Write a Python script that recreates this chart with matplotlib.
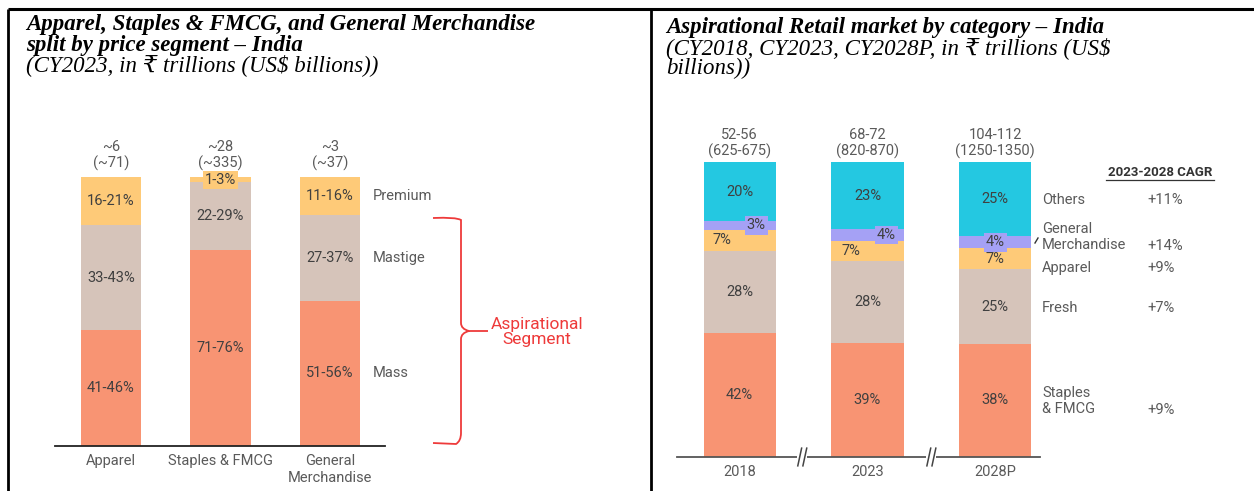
import matplotlib
matplotlib.use("Agg")
import matplotlib.pyplot as plt
import numpy as np
from matplotlib.path import Path
from matplotlib.patches import PathPatch

# ---------------- data ----------------
left_categories = ['Apparel', 'Staples & FMCG', 'General\nMerchandise']
left_totals = ['~6\n(~71)', '~28\n(~335)', '~3\n(~37)']
left_mass = [43, 73, 54]
left_mastige = [39, 25, 32]
left_premium = [18, 2, 14]
left_mass_labels = ['41-46%', '71-76%', '51-56%']
left_mastige_labels = ['33-43%', '22-29%', '27-37%']
left_premium_labels = ['16-21%', '1-3%', '11-16%']
left_segment_names = ['Mass', 'Mastige', 'Premium']

years = ['2018', '2023', '2028P']
year_totals = ['52-56\n(625-675)', '68-72\n(820-870)', '104-112\n(1250-1350)']
right_categories = ['Staples\n& FMCG', 'Fresh', 'Apparel', 'General\nMerchandise', 'Others']
staples = [42, 39, 38]
fresh = [28, 28, 25]
apparel = [7, 7, 7]
gen_merch = [3, 4, 4]
others = [20, 23, 25]
cagr = ['+9%', '+7%', '+9%', '+14%', '+11%']

# ---------------- style ----------------
C_MASS = '#f89473'
C_MAST = '#d6c4ba'
C_PREM = '#feca78'
C_CYAN = '#24c8e1'
C_PURP = '#a5a1f5'
TXT = '#404040'
GRAY = '#5a5a5a'
SANS = ['Roboto', 'DejaVu Sans']
SERIF = ['Liberation Serif', 'DejaVu Serif', 'DejaVu Sans']
FS = 10.5
TFS = 16.5

W, H = 1254, 491
fig = plt.figure(figsize=(W / 100, H / 100), dpi=100)
fig.patch.set_facecolor('white')


def pos(x0, x1, ytop, ybot):
    return [x0 / W, (H - ybot) / H, (x1 - x0) / W, (ybot - ytop) / H]


ov = fig.add_axes([0, 0, 1, 1], zorder=0)
ov.set_xlim(0, W)
ov.set_ylim(H, 0)
ov.axis('off')

# frame lines
ov.plot([8, W], [9, 9], color='black', lw=2.2, solid_capstyle='butt')
ov.plot([8, 8], [9, H], color='black', lw=2.0, solid_capstyle='butt')
ov.plot([651, 651], [9, H], color='black', lw=2.0, solid_capstyle='butt')

# titles
ov.text(26, 24, 'Apparel, Staples & FMCG, and General Merchandise', family=SERIF,
        fontsize=TFS, fontweight='bold', style='italic', va='center', ha='left')
ov.text(26, 45, 'split by price segment – India', family=SERIF,
        fontsize=TFS, fontweight='bold', style='italic', va='center', ha='left')
ov.text(26, 65, '(CY2023, in ₹ trillions (US$ billions))', family=SERIF,
        fontsize=TFS, style='italic', va='center', ha='left')

ov.text(666, 27, 'Aspirational Retail market by category – India', family=SERIF,
        fontsize=TFS, fontweight='bold', style='italic', va='center', ha='left')
ov.text(666, 48, '(CY2018, CY2023, CY2028P, in ₹ trillions (US$', family=SERIF,
        fontsize=TFS, style='italic', va='center', ha='left')
ov.text(666, 68, 'billions))', family=SERIF,
        fontsize=TFS, style='italic', va='center', ha='left')

# ---------------- left chart ----------------
axL = fig.add_axes(pos(55, 385, 177, 446), zorder=1)
axL.patch.set_alpha(0)
xl = np.arange(len(left_categories))
wL = 0.55
axL.bar(xl, left_mass, wL, color=C_MASS)
axL.bar(xl, left_mastige, wL, bottom=left_mass, color=C_MAST)
bot_p = np.array(left_mass) + np.array(left_mastige)
axL.bar(xl, left_premium, wL, bottom=bot_p, color=C_PREM)
axL.set_xlim(-0.51, 2.5)
axL.set_ylim(0, 100)
for s in ['top', 'right', 'left']:
    axL.spines[s].set_visible(False)
axL.spines['bottom'].set_color('#222222')
axL.spines['bottom'].set_linewidth(1.3)
axL.set_yticks([])
axL.set_xticks(xl)
axL.set_xticklabels(left_categories, family=SANS, fontsize=FS, color=GRAY, linespacing=1.2)
axL.tick_params(axis='x', length=0, pad=6)

for i in range(3):
    m, mg, p = left_mass[i], left_mastige[i], left_premium[i]
    axL.text(i, m / 2, left_mass_labels[i], ha='center', va='center', family=SANS, fontsize=FS, color=TXT)
    axL.text(i, m + mg / 2, left_mastige_labels[i], ha='center', va='center', family=SANS, fontsize=FS, color=TXT)
    if p < 5:
        axL.text(i, m + mg + p / 2, left_premium_labels[i], ha='center', va='center', family=SANS,
                 fontsize=FS, color=TXT,
                 bbox=dict(boxstyle='square,pad=0.15', fc=C_PREM, ec='none'))
    else:
        axL.text(i, m + mg + p / 2, left_premium_labels[i], ha='center', va='center', family=SANS,
                 fontsize=FS, color=TXT)
    axL.annotate(left_totals[i], (i, 100), xytext=(0, 4), textcoords='offset points',
                 ha='center', va='bottom', family=SANS, fontsize=FS, color=GRAY, linespacing=1.2)

# segment names beside last bar
gi = 2
seg_mid = [left_mass[gi] / 2, left_mass[gi] + left_mastige[gi] / 2,
           left_mass[gi] + left_mastige[gi] + left_premium[gi] / 2]
for name, y in zip(left_segment_names, seg_mid):
    axL.annotate(name, (gi + wL / 2, y), xytext=(8.6, 0), textcoords='offset points',
                 ha='left', va='center', family=SANS, fontsize=FS, color=GRAY)

# curly brace (Aspirational segment)
bx, btop, bbot, bmid, tipx, armx = 461, 218, 443, 331, 488, 433
verts = [(armx, btop), (bx - 5, btop - 1), (bx, btop + 2), (bx, btop + 10),
         (bx, bmid - 8), (bx, bmid - 2), (bx + 8, bmid), (tipx, bmid),
         (bx + 8, bmid), (bx, bmid + 2), (bx, bmid + 8),
         (bx, bbot - 10), (bx, bbot - 2), (bx - 5, bbot + 1), (armx, bbot)]
codes = [Path.MOVETO, Path.CURVE3, Path.CURVE3, Path.LINETO,
         Path.LINETO, Path.CURVE3, Path.CURVE3, Path.LINETO,
         Path.MOVETO, Path.CURVE3, Path.CURVE3,
         Path.LINETO, Path.CURVE3, Path.CURVE3, Path.LINETO]
ov.add_patch(PathPatch(Path(verts, codes), fc='none', ec='#ee3a3a', lw=1.3))
ov.text(537, 332, 'Aspirational\nSegment', ha='center', va='center', family=SANS,
        fontsize=12.5, color='#ee3a3a', fontweight='normal', linespacing=1.05)

# ---------------- right chart ----------------
axR = fig.add_axes(pos(677, 1040, 162, 457), zorder=1)
axR.patch.set_alpha(0)
xr = np.arange(len(years))
wR = 0.565
series = [staples, fresh, apparel, gen_merch, others]
colors = [C_MASS, C_MAST, C_PREM, C_PURP, C_CYAN]
tot = np.sum(np.array(series, dtype=float), axis=0)
norm = [np.array(s, dtype=float) / tot * 100 for s in series]
bottom = np.zeros(3)
bottoms = []
for vals, c in zip(norm, colors):
    axR.bar(xr, vals, wR, bottom=bottom, color=c)
    bottoms.append(bottom.copy())
    bottom = bottom + vals
axR.set_xlim(-0.49, 2.35)
axR.set_ylim(0, 100)
for s in ['top', 'right', 'left']:
    axR.spines[s].set_visible(False)
axR.spines['bottom'].set_color('#555555')
axR.spines['bottom'].set_linewidth(1.3)
axR.set_yticks([])
axR.set_xticks(xr)
axR.set_xticklabels(years, family=SANS, fontsize=FS, color=GRAY)
axR.tick_params(axis='x', length=0, pad=6)

# value labels
x_offsets = {
    2: [-0.14, -0.13, 0.0],   # apparel
    3: [0.13, 0.15, 0.0],     # general merchandise
}
for k, (s, vals, b) in enumerate(zip(series, norm, bottoms)):
    for i in range(3):
        dx = x_offsets.get(k, [0, 0, 0])[i]
        kw = {}
        if k == 3:
            kw['bbox'] = dict(boxstyle='square,pad=0.15', fc=C_PURP, ec='none')
        axR.text(i + dx, b[i] + vals[i] / 2, f'{s[i]}%', ha='center', va='center',
                 family=SANS, fontsize=FS, color=TXT, **kw)

for i in range(3):
    axR.annotate(year_totals[i], (i, 100), xytext=(0, 2), textcoords='offset points',
                 ha='center', va='bottom', family=SANS, fontsize=FS, color=GRAY, linespacing=1.2)

# axis break marks
tr = axR.get_xaxis_transform()
for xb in [0.49, 1.5]:
    axR.plot([xb - 0.04, xb + 0.04], [0, 0], color='white', lw=4, transform=tr,
             clip_on=False, zorder=5, solid_capstyle='butt')
    for d in (-0.02, 0.02):
        axR.plot([xb + d - 0.015, xb + d + 0.015], [-0.03, 0.03], color='#444444', lw=1.1,
                 transform=tr, clip_on=False, zorder=6)

# CAGR legend
ov.text(1160, 172, '2023-2028 CAGR', ha='center', va='center', family=SANS, fontsize=9.5,
        fontweight='bold', color='#333333')
ov.plot([1106, 1214], [180, 180], color='#333333', lw=0.9)
leg_y = [401, 308, 268, 237, 200]
for name, val, y in zip(right_categories, cagr, leg_y):
    ov.text(1042, y, name, ha='left', va='center', family=SANS, fontsize=FS, color=GRAY,
            linespacing=1.2)
    yv = y + 9 if '\n' in name else y
    ov.text(1147, yv, val, ha='left', va='center', family=SANS, fontsize=FS, color=GRAY)
ov.plot([1035, 1038], [243, 238], color='#333333', lw=1.0)

fig.savefig('out.png', dpi=100, facecolor='white')
